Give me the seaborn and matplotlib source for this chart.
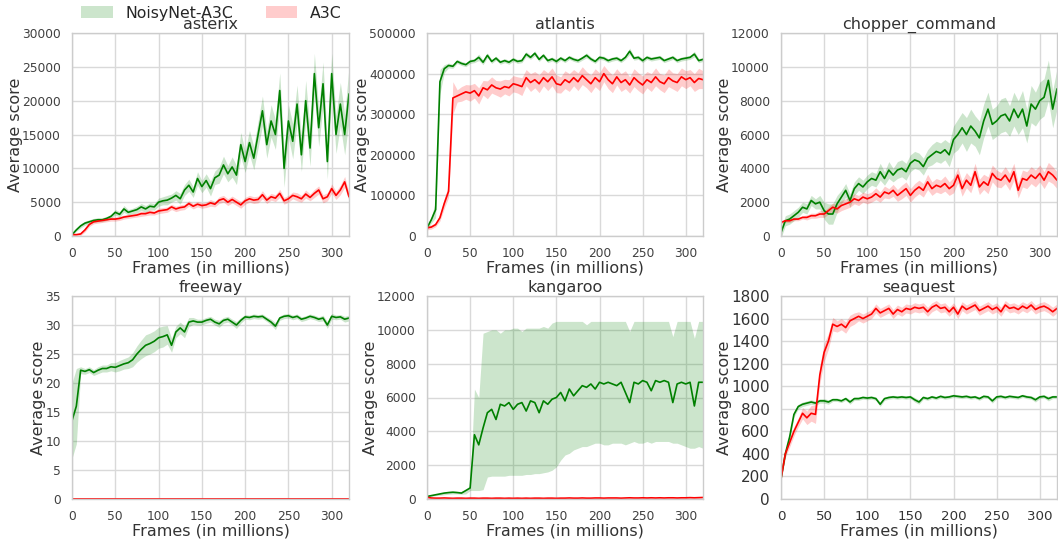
import numpy as np
import pandas as pd
import matplotlib
matplotlib.use("Agg")
import matplotlib.pyplot as plt
from matplotlib.patches import Patch
import seaborn as sns

# ---------------- data (every 5M frames) ----------------
frames = list(range(0, 325, 5))  # 0..320

asterix_noisy = [200, 900, 1500, 1900, 2100, 2300, 2400, 2400, 2600, 2900,
                 3500, 3200, 4000, 3500, 3700, 3900, 4300, 4000, 4400, 4300,
                 5000, 5200, 5300, 5600, 6000, 5500, 6800, 7500, 6500, 8500,
                 7300, 8200, 7000, 8600, 9000, 10500, 9200, 10200, 9000, 13500,
                 11000, 13800, 11500, 15000, 18500, 13500, 17000, 15000, 21500, 10000,
                 17000, 14000, 19500, 12000, 20000, 13000, 24000, 16000, 22500, 11000,
                 24000, 15000, 19500, 15000, 21000]
asterix_noisy_err = [100, 200, 300, 300, 300, 300, 300, 300, 300, 300,
                     400, 400, 500, 400, 400, 500, 500, 500, 500, 500,
                     600, 600, 700, 600, 700, 800, 800, 900, 800, 1000,
                     900, 1000, 1100, 1000, 1200, 1300, 1200, 1500, 1400, 1800,
                     1600, 1800, 1700, 2000, 2200, 2000, 2400, 2200, 2600, 2800,
                     2400, 2600, 2800, 2500, 3000, 2700, 3000, 2800, 3200, 2600,
                     3000, 2800, 3200, 3000, 4000]
asterix_a3c = [200, 200, 300, 900, 1700, 2100, 2200, 2300, 2400, 2500,
               2500, 2600, 2800, 2900, 3000, 3100, 3300, 3300, 3500, 3400,
               3700, 3800, 3900, 4300, 4000, 4200, 4300, 4800, 4400, 4700,
               4500, 4600, 4900, 4700, 5300, 5500, 5000, 5400, 5000, 4600,
               5200, 5500, 5300, 5400, 6100, 5300, 5800, 5600, 6300, 5200,
               5500, 6000, 5800, 5500, 6200, 5700, 6300, 6800, 5500, 5800,
               7000, 6000, 6800, 8000, 5800]
asterix_a3c_err = [100, 100, 200, 300, 300, 300, 300, 300, 300, 300,
                   300, 300, 300, 300, 300, 300, 400, 300, 400, 300,
                   400, 400, 400, 400, 400, 400, 400, 400, 400, 400,
                   400, 400, 500, 400, 500, 500, 500, 500, 500, 500,
                   500, 500, 500, 500, 600, 500, 500, 500, 600, 500,
                   500, 500, 600, 500, 600, 500, 600, 600, 600, 600,
                   700, 600, 700, 800, 600]

atlantis_noisy = [20000, 40000, 65000, 380000, 412000, 420000, 418000, 430000, 425000, 422000,
                  430000, 432000, 440000, 428000, 445000, 430000, 438000, 428000, 432000, 428000,
                  435000, 430000, 432000, 448000, 440000, 450000, 435000, 445000, 432000, 436000,
                  430000, 438000, 432000, 440000, 435000, 432000, 438000, 445000, 436000, 430000,
                  440000, 438000, 432000, 436000, 438000, 432000, 440000, 455000, 438000, 440000,
                  432000, 440000, 436000, 438000, 440000, 432000, 436000, 440000, 432000, 436000,
                  438000, 440000, 448000, 432000, 435000]
atlantis_noisy_err = [5000, 8000, 20000, 30000, 10000, 6000, 5000, 5000, 5000, 5000,
                      5000, 5000, 8000, 6000, 6000, 5000, 5000, 5000, 5000, 5000,
                      5000, 5000, 5000, 6000, 5000, 6000, 5000, 5000, 5000, 5000,
                      5000, 5000, 5000, 5000, 5000, 5000, 5000, 6000, 5000, 5000,
                      5000, 5000, 5000, 5000, 5000, 5000, 5000, 8000, 5000, 5000,
                      5000, 5000, 5000, 5000, 5000, 5000, 5000, 5000, 5000, 5000,
                      5000, 5000, 7000, 5000, 5000]
atlantis_a3c = [20000, 22000, 28000, 45000, 80000, 110000, 340000, 345000, 350000, 355000,
                352000, 358000, 345000, 365000, 360000, 372000, 365000, 362000, 368000, 365000,
                375000, 372000, 368000, 390000, 378000, 385000, 375000, 390000, 380000, 392000,
                375000, 372000, 385000, 378000, 390000, 380000, 395000, 385000, 375000, 390000,
                380000, 400000, 385000, 375000, 392000, 378000, 385000, 372000, 390000, 380000,
                372000, 385000, 378000, 392000, 380000, 375000, 390000, 382000, 378000, 392000,
                385000, 390000, 378000, 388000, 385000]
atlantis_a3c_err = [5000, 5000, 5000, 8000, 12000, 15000, 40000, 15000, 18000, 18000,
                    20000, 18000, 20000, 18000, 22000, 20000, 18000, 20000, 18000, 20000,
                    20000, 20000, 22000, 20000, 22000, 20000, 22000, 20000, 22000, 22000,
                    22000, 20000, 22000, 22000, 20000, 22000, 22000, 20000, 22000, 22000,
                    22000, 20000, 22000, 22000, 20000, 22000, 22000, 20000, 22000, 22000,
                    22000, 20000, 22000, 22000, 20000, 22000, 22000, 20000, 22000, 22000,
                    22000, 20000, 22000, 25000, 22000]

chopper_noisy = [200, 900, 1000, 1200, 1400, 1700, 1600, 2100, 1900, 2000,
                 1500, 1300, 1300, 1900, 2300, 2700, 2100, 2800, 3100, 2900,
                 3200, 3400, 3300, 3800, 3400, 3900, 3600, 3900, 4000, 3800,
                 4300, 4500, 4400, 4100, 4600, 4800, 5000, 4900, 5100, 4800,
                 5700, 6000, 6400, 6000, 6500, 6200, 5800, 6800, 7500, 6600,
                 6800, 7100, 7200, 6800, 7500, 7000, 7500, 6500, 7800, 7500,
                 8000, 8200, 9200, 7500, 8700]
chopper_noisy_err = [300, 300, 300, 300, 300, 300, 300, 300, 300, 400,
                     500, 600, 600, 500, 400, 400, 400, 400, 400, 400,
                     400, 400, 400, 500, 400, 500, 400, 500, 500, 500,
                     500, 500, 500, 500, 500, 600, 600, 600, 600, 700,
                     800, 900, 900, 1000, 1000, 900, 1000, 1000, 1000, 900,
                     900, 1000, 1000, 900, 1000, 1000, 1100, 1000, 1100, 1000,
                     1100, 1100, 1200, 1100, 1200]
chopper_a3c = [800, 900, 900, 1000, 1000, 1100, 1100, 1200, 1200, 1300,
               1300, 1500, 1700, 1600, 1800, 1900, 2000, 2200, 2100, 2300,
               2200, 2300, 2500, 2300, 2600, 2500, 2700, 2400, 2600, 2800,
               2400, 2700, 2900, 2700, 3200, 2800, 3000, 2900, 3100, 2800,
               3000, 3600, 2800, 3300, 3000, 3800, 2900, 3200, 3000, 3700,
               3400, 3300, 3600, 3200, 3800, 2700, 3400, 3300, 3600, 3400,
               3700, 3300, 3800, 3600, 3300]
chopper_a3c_err = [100, 100, 100, 100, 100, 100, 150, 150, 150, 200,
                   200, 200, 250, 250, 300, 300, 300, 300, 300, 300,
                   300, 300, 350, 300, 350, 300, 350, 350, 400, 400,
                   400, 400, 400, 400, 450, 400, 400, 400, 450, 400,
                   450, 450, 450, 450, 450, 500, 450, 450, 500, 500,
                   500, 450, 500, 500, 500, 450, 500, 500, 500, 500,
                   500, 500, 550, 500, 500]

freeway_noisy = [13.5, 16.0, 22.2, 22.0, 22.3, 21.8, 22.2, 22.5, 22.5, 22.8,
                 22.7, 23.0, 23.3, 23.5, 24.0, 25.0, 25.8, 26.5, 26.8, 27.2,
                 27.8, 28.0, 28.3, 26.5, 28.8, 29.5, 28.8, 30.5, 30.7, 30.5,
                 30.5, 30.8, 31.0, 30.5, 30.2, 30.8, 31.0, 30.5, 30.0, 30.8,
                 31.4, 31.3, 31.5, 31.4, 31.5, 31.0, 30.5, 29.8, 31.2, 31.5,
                 31.6, 31.3, 31.5, 31.0, 31.2, 31.5, 31.3, 31.0, 31.2, 30.0,
                 31.5, 31.3, 31.4, 31.0, 31.2]
freeway_noisy_err = [6.5, 6.5, 0.6, 0.5, 0.5, 0.5, 0.6, 0.6, 0.6, 0.7,
                     0.8, 0.9, 0.9, 1.0, 1.2, 1.4, 1.6, 1.8, 1.8, 1.8,
                     1.8, 1.8, 1.6, 1.2, 1.0, 1.0, 1.0, 0.8, 0.6, 0.5,
                     0.5, 0.5, 0.5, 0.5, 0.6, 0.5, 0.5, 0.5, 0.6, 0.5,
                     0.4, 0.4, 0.4, 0.4, 0.4, 0.4, 0.5, 0.6, 0.4, 0.4,
                     0.4, 0.4, 0.4, 0.4, 0.4, 0.4, 0.4, 0.4, 0.5, 0.6,
                     0.5, 0.4, 0.4, 0.5, 0.5]
freeway_a3c = [0.0] * 65
freeway_a3c_err = [0.0] * 65

kangaroo_noisy = [150, 200, 250, 300, 350, 380, 400, 380, 350, 500,
                  650, 3800, 3200, 4200, 5100, 5300, 4700, 5600, 5500, 5700,
                  5300, 5600, 5700, 5200, 5800, 5700, 5100, 5800, 5600, 5900,
                  6000, 6300, 5800, 6500, 6100, 6400, 6700, 6600, 6800, 6500,
                  6900, 6800, 6900, 6800, 6700, 6900, 6300, 5700, 6900, 6800,
                  7000, 6900, 6400, 7000, 6900, 7000, 6900, 5700, 6800, 6900,
                  6800, 6900, 5500, 6900, 6900]
kangaroo_noisy_lo = [100, 150, 200, 220, 250, 280, 300, 300, 280, 300,
                     500, 500, 500, 550, 1300, 1350, 1350, 1350, 1350, 1400,
                     1400, 1400, 1400, 1450, 1450, 1500, 1500, 1550, 1600, 1700,
                     1900, 2300, 2600, 2700, 2900, 3000, 3100, 3100, 3200, 3300,
                     3300, 3200, 3200, 3300, 3300, 3300, 3200, 3300, 3400, 3300,
                     3300, 3400, 3300, 3400, 3400, 3400, 3400, 3300, 3300, 3200,
                     3100, 3000, 3000, 3100, 3000]
kangaroo_noisy_hi = [200, 250, 300, 350, 400, 450, 480, 450, 450, 550,
                     800, 6500, 6000, 9800, 9900, 10000, 10000, 9800, 10000, 10000,
                     10100, 10100, 9900, 10100, 10100, 10100, 10100, 10200, 10100, 10400,
                     10500, 10500, 10500, 10500, 10500, 10500, 10500, 10300, 10500, 10500,
                     10500, 10500, 10500, 10500, 10500, 10500, 10500, 9900, 10500, 10500,
                     10500, 10500, 10500, 10500, 10500, 10500, 10500, 9600, 10500, 10500,
                     10500, 10500, 9500, 10500, 10500]
kangaroo_a3c = [100, 60, 50, 50, 60, 50, 40, 50, 50, 40,
                50, 50, 40, 50, 50, 40, 50, 50, 40, 50,
                40, 50, 40, 50, 40, 50, 50, 40, 50, 50,
                40, 50, 50, 60, 50, 50, 60, 50, 50, 60,
                60, 50, 60, 60, 60, 50, 60, 70, 60, 60,
                70, 60, 70, 60, 70, 60, 70, 70, 60, 70,
                70, 80, 70, 80, 90]
kangaroo_a3c_err = [20] * 65

seaquest_noisy = [180, 400, 550, 750, 820, 840, 850, 860, 850, 870,
                  870, 860, 880, 880, 870, 890, 860, 890, 890, 900,
                  895, 900, 890, 840, 890, 900, 905, 900, 905, 900,
                  905, 880, 860, 900, 890, 905, 895, 910, 900, 905,
                  915, 910, 905, 910, 900, 905, 890, 910, 905, 870,
                  905, 910, 900, 910, 905, 900, 915, 905, 900, 880,
                  905, 910, 890, 905, 905]
seaquest_noisy_err = [20, 30, 30, 25, 20, 20, 20, 20, 20, 20,
                      20, 20, 15, 15, 15, 15, 20, 15, 15, 15,
                      15, 15, 15, 20, 15, 15, 15, 15, 15, 15,
                      15, 20, 20, 15, 15, 15, 15, 15, 15, 15,
                      15, 15, 15, 15, 15, 15, 15, 15, 15, 20,
                      15, 15, 15, 15, 15, 15, 15, 15, 15, 20,
                      15, 15, 20, 15, 15]
seaquest_a3c = [180, 400, 500, 600, 680, 760, 720, 760, 750, 1100,
                1300, 1400, 1550, 1530, 1550, 1520, 1580, 1600, 1620, 1600,
                1620, 1640, 1690, 1650, 1670, 1690, 1640, 1680, 1660, 1690,
                1680, 1700, 1690, 1700, 1660, 1700, 1720, 1690, 1700, 1660,
                1700, 1640, 1710, 1680, 1700, 1720, 1670, 1690, 1710, 1680,
                1700, 1660, 1720, 1690, 1700, 1680, 1710, 1690, 1720, 1680,
                1700, 1710, 1690, 1660, 1690]
seaquest_a3c_err = [20, 30, 40, 40, 40, 50, 60, 70, 80, 80,
                    80, 70, 60, 50, 50, 50, 50, 50, 40, 40,
                    40, 40, 40, 40, 40, 40, 40, 40, 40, 40,
                    40, 40, 40, 40, 40, 40, 40, 40, 40, 40,
                    40, 40, 40, 40, 40, 40, 40, 40, 40, 40,
                    40, 40, 40, 40, 40, 40, 40, 40, 40, 40,
                    40, 40, 40, 40, 40]

games = ["asterix", "atlantis", "chopper_command", "freeway", "kangaroo", "seaquest"]
y_max = [30000, 500000, 12000, 35, 12000, 1800]
y_step = [5000, 100000, 2000, 5, 2000, 200]
legend_labels = ["NoisyNet-A3C", "A3C"]

series = {
    "asterix": (asterix_noisy, np.array(asterix_noisy) - asterix_noisy_err, np.array(asterix_noisy) + asterix_noisy_err,
                asterix_a3c, asterix_a3c_err),
    "atlantis": (atlantis_noisy, np.array(atlantis_noisy) - atlantis_noisy_err, np.array(atlantis_noisy) + atlantis_noisy_err,
                 atlantis_a3c, atlantis_a3c_err),
    "chopper_command": (chopper_noisy, np.array(chopper_noisy) - chopper_noisy_err, np.array(chopper_noisy) + chopper_noisy_err,
                        chopper_a3c, chopper_a3c_err),
    "freeway": (freeway_noisy, np.array(freeway_noisy) - freeway_noisy_err, np.array(freeway_noisy) + freeway_noisy_err,
                freeway_a3c, freeway_a3c_err),
    "kangaroo": (kangaroo_noisy, kangaroo_noisy_lo, kangaroo_noisy_hi, kangaroo_a3c, kangaroo_a3c_err),
    "seaquest": (seaquest_noisy, np.array(seaquest_noisy) - seaquest_noisy_err, np.array(seaquest_noisy) + seaquest_noisy_err,
                 seaquest_a3c, seaquest_a3c_err),
}

# ---------------- style ----------------
sns.set_theme(style="whitegrid")
plt.rcParams["font.family"] = ["DejaVu Sans"]
plt.rcParams["axes.edgecolor"] = ".8"
plt.rcParams["grid.color"] = ".85"

GREEN = "green"
RED = "red"

fig = plt.figure(figsize=(10.58, 5.40), dpi=100)
W, H = 1058.0, 540.0
lefts = [72, 427, 781]
widths = [277, 276, 276]
tops = [33, 296]
height = 203

x = np.array(frames)
for i, g in enumerate(games):
    r, c = divmod(i, 3)
    ax = fig.add_axes([lefts[c] / W, 1 - (tops[r] + height) / H, widths[c] / W, height / H])
    noisy, lo, hi, a3c, a3c_err = series[g]
    a3c = np.array(a3c, dtype=float)
    a3c_err = np.array(a3c_err, dtype=float)
    ax.fill_between(x, lo, hi, color=GREEN, alpha=0.2, linewidth=0)
    ax.fill_between(x, a3c - a3c_err, a3c + a3c_err, color=RED, alpha=0.2, linewidth=0)
    sns.lineplot(x=x, y=np.array(noisy, dtype=float), color=GREEN, linewidth=1.2, ax=ax)
    sns.lineplot(x=x, y=a3c, color=RED, linewidth=1.2, ax=ax)
    ax.set_xlim(0, 320)
    ax.set_ylim(0, y_max[i])
    ax.set_xticks([0, 50, 100, 150, 200, 250, 300])
    ax.set_yticks(np.arange(0, y_max[i] + y_step[i] * 0.5, y_step[i]))
    ax.set_title(g, fontsize=11.5, pad=3, color=".2")
    ax.set_xlabel("Frames (in millions)", fontsize=11.5, labelpad=0, color=".2")
    ax.set_ylabel("Average score", fontsize=11.5, labelpad=-0.5, color=".2")
    if g == "seaquest":
        ax.tick_params(axis="y", labelsize=11.0, pad=2, colors=".2")
        ax.tick_params(axis="x", labelsize=9.6, pad=2, colors=".2")
    else:
        ax.tick_params(axis="both", labelsize=8.8, pad=2, colors=".25")
    for s in ax.spines.values():
        s.set_color(".8")
        s.set_linewidth(1.0)

handles = [Patch(facecolor=GREEN, alpha=0.2, edgecolor="none"),
           Patch(facecolor=RED, alpha=0.2, edgecolor="none")]
fig.legend(handles, legend_labels, loc="upper left", bbox_to_anchor=(75 / W, 1.001),
           ncol=2, frameon=False, fontsize=11.3, handlelength=2.0, handleheight=0.8,
           handletextpad=0.8, columnspacing=2.1, borderaxespad=0.0)

fig.savefig("out.png", dpi=100)
